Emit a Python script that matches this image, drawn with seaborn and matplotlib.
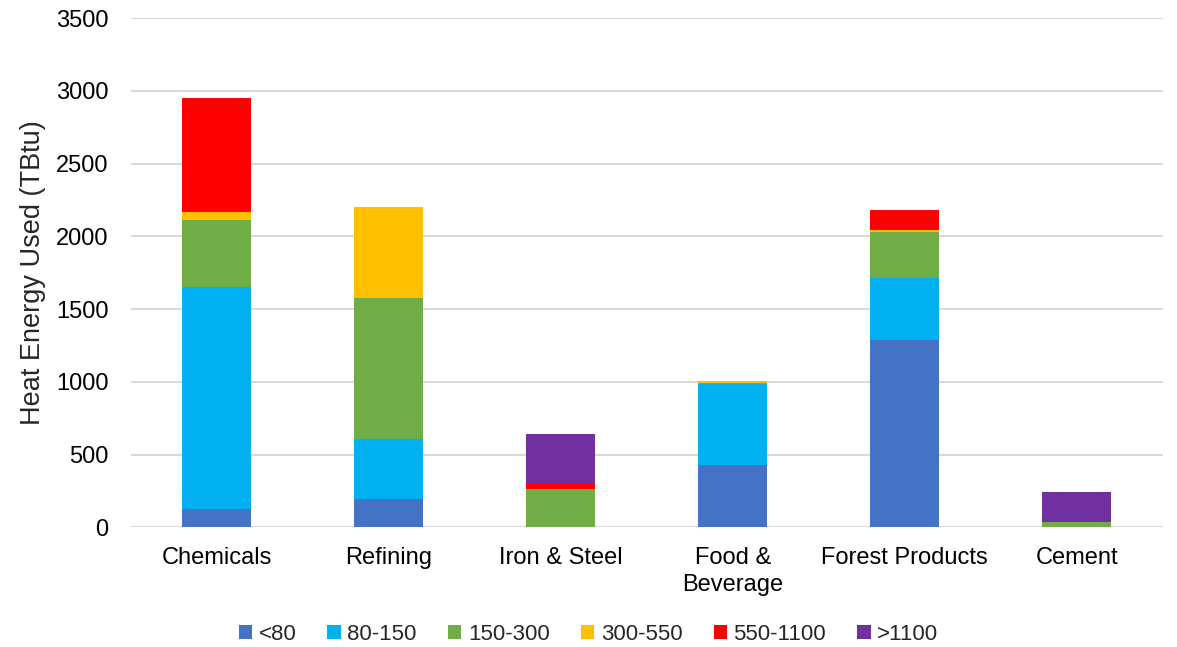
import matplotlib
matplotlib.use("Agg")
import matplotlib.pyplot as plt
from matplotlib.patches import Patch
import numpy as np
import pandas as pd
import seaborn as sns

# Heat energy use by temperature band (TBtu)
categories = ["Chemicals", "Refining", "Iron & Steel", "Food &\nBeverage", "Forest Products", "Cement"]
bands = ["<80", "80-150", "150-300", "300-550", "550-1100", ">1100"]
lt80 = [125, 192, 0, 426, 1290, 0]
b80_150 = [1525, 413, 0, 561, 423, 0]
b150_300 = [463, 970, 263, 6, 318, 38]
b300_550 = [53, 628, 0, 12, 16, 0]
b550_1100 = [786, 0, 32, 0, 133, 0]
gt1100 = [0, 0, 346, 0, 0, 205]
colors = ["#4472C4", "#00B0F0", "#70AD47", "#FFC000", "#FF0000", "#7030A0"]
yticks = [0, 500, 1000, 1500, 2000, 2500, 3000, 3500]

series = [lt80, b80_150, b150_300, b300_550, b550_1100, gt1100]
df = pd.DataFrame(dict(zip(bands, series)), index=categories)
cum = df.cumsum(axis=1)

sns.set_theme(style="white")
plt.rcParams["font.family"] = ["Liberation Sans", "DejaVu Sans"]

fig = plt.figure(figsize=(11.77, 6.47), dpi=100)
ax = fig.add_axes([0.111, 0.185, 0.877, 0.787])

# Stack by overlaying cumulative totals, tallest first
for band, color in reversed(list(zip(bands, colors))):
    d = pd.DataFrame({"cat": categories, "val": cum[band].values})
    sns.barplot(data=d, x="cat", y="val", color=color, width=0.4,
                saturation=1, ax=ax, zorder=3, linewidth=0)

ax.set_ylim(0, 3500)
ax.set_yticks(yticks)
ax.set_yticklabels([str(t) for t in yticks])
ax.set_xlim(-0.5, len(categories) - 0.5)
ax.yaxis.grid(True, color="#D9D9D9", linewidth=1.5, zorder=0)
ax.set_axisbelow(True)
for s in ax.spines.values():
    s.set_visible(False)
ax.tick_params(axis="both", length=0, labelsize=17, colors="#000000")
ax.tick_params(axis="y", pad=16)
ax.tick_params(axis="x", pad=14)
for lbl in ax.get_xticklabels():
    lbl.set_linespacing(1.28)
ax.set_xlabel("")
ax.set_ylabel("Heat Energy Used (TBtu)", fontsize=19.5, labelpad=7)

handles = [Patch(facecolor=c, edgecolor="none", label=b) for b, c in zip(bands, colors)]
fig.legend(handles=handles, loc="center", bbox_to_anchor=(0.5, 0.02), ncol=6,
           frameon=False, fontsize=16, handlelength=0.6, handleheight=0.6,
           handletextpad=0.3, columnspacing=1.4)

fig.savefig("out.png", dpi=100)
